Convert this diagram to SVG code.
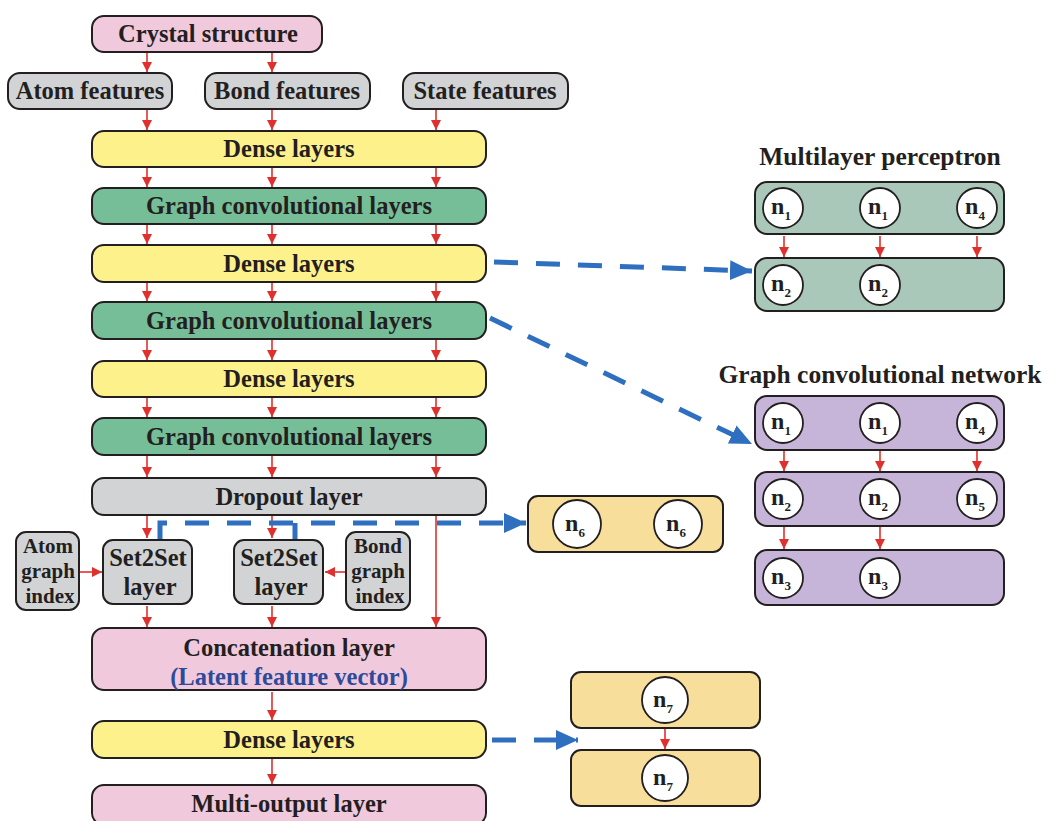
<svg xmlns="http://www.w3.org/2000/svg" width="1048" height="821" viewBox="0 0 1048 821">
<defs>
<marker id="ra" markerUnits="userSpaceOnUse" markerWidth="10" markerHeight="10" viewBox="0 0 10 10" refX="10" refY="5" orient="auto"><path d="M0,0 L10,5 L0,10 Z" fill="#e0302e"/></marker>
<marker id="ba" markerUnits="userSpaceOnUse" markerWidth="22" markerHeight="20" viewBox="0 0 22 20" refX="22" refY="10" orient="auto"><path d="M0,0 L22,10 L0,20 Z" fill="#2f6fbf"/></marker>
<style>
.b{stroke:#231f20;stroke-width:2}
.pk{fill:#f1c9dc}.gy{fill:#d2d3d5}.yl{fill:#fdf18c}.gr{fill:#75be98}.mg{fill:#aac8b9}.pu{fill:#c6b4d9}.tn{fill:#f8de9b}
.t{font-family:"Liberation Serif",serif;font-weight:bold;fill:#231f20;text-anchor:middle}
.m{font-size:24.5px}.s{font-size:21px}.h{font-size:25.5px}
.r{stroke:#e0302e;stroke-width:1.6;fill:none;marker-end:url(#ra)}
.bl{stroke:#2f6fbf;stroke-width:5;fill:none;stroke-dasharray:24 18}
.c{fill:#fff;stroke:#231f20;stroke-width:1.8}
.n{font-family:"Liberation Serif",serif;font-weight:bold;fill:#231f20;font-size:24px;text-anchor:middle}
.sub{font-size:13px}
</style>
</defs>
<g id="connectors">
<path class="r" d="M147,53 V72"/><path class="r" d="M272,53 V72"/>
<path class="r" d="M147,110 V130"/><path class="r" d="M272,110 V130"/><path class="r" d="M436,110 V130"/>
<path class="r" d="M147,168 V187"/><path class="r" d="M272,168 V187"/><path class="r" d="M436,168 V187"/>
<path class="r" d="M147,225 V244"/><path class="r" d="M272,225 V244"/><path class="r" d="M436,225 V244"/>
<path class="r" d="M147,283 V301"/><path class="r" d="M272,283 V301"/><path class="r" d="M436,283 V301"/>
<path class="r" d="M147,340 V360"/><path class="r" d="M272,340 V360"/><path class="r" d="M436,340 V360"/>
<path class="r" d="M147,398 V417"/><path class="r" d="M272,398 V417"/><path class="r" d="M436,398 V417"/>
<path class="r" d="M147,456 V477"/><path class="r" d="M272,456 V477"/><path class="r" d="M436,456 V477"/>
<path class="r" d="M147,516 V538"/><path class="r" d="M272,516 V538"/><path class="r" d="M436,516 V627"/>
<path class="r" d="M80,572 H102"/><path class="r" d="M346,572 H325"/>
<path class="r" d="M147,606 V627"/><path class="r" d="M272,606 V627"/>
<path class="r" d="M272,692 V720"/><path class="r" d="M272,759 V784"/>
<path class="r" d="M784,236 V257"/><path class="r" d="M880,236 V257"/><path class="r" d="M977,236 V257"/>
<path class="r" d="M784,451 V471"/><path class="r" d="M880,451 V471"/><path class="r" d="M977,451 V471"/>
<path class="r" d="M784,527 V549"/><path class="r" d="M880,527 V549"/>
<path class="r" d="M665,729 V749"/>
<path class="bl" d="M494,262 L752,271" marker-end="url(#ba)"/>
<path class="bl" d="M490,318 L752,444" marker-end="url(#ba)"/>
<path class="bl" d="M160,540 V523 H526" marker-end="url(#ba)"/>
<path class="bl" d="M295,540 V523" style="stroke-dasharray:none"/>
<path class="bl" d="M492,740 L578,740" marker-end="url(#ba)"/>
</g>
<g id="crystal"><rect class="b pk" x="92" y="16" width="230" height="36" rx="12"/><text class="t m" x="208" y="42">Crystal structure</text></g>
<g id="atomf"><rect class="b gy" x="8" y="73" width="164" height="36" rx="12"/><text class="t m" x="90" y="99">Atom features</text></g>
<g id="bondf"><rect class="b gy" x="205" y="73" width="165" height="36" rx="12"/><text class="t m" x="287" y="99">Bond features</text></g>
<g id="statef"><rect class="b gy" x="403" y="73" width="165" height="36" rx="12"/><text class="t m" x="485" y="99">State features</text></g>
<g id="dense1"><rect class="b yl" x="92" y="131" width="394" height="36" rx="12"/><text class="t m" x="289" y="157">Dense layers</text></g>
<g id="gc1"><rect class="b gr" x="92" y="188" width="394" height="36" rx="12"/><text class="t m" x="289" y="214">Graph convolutional layers</text></g>
<g id="dense2"><rect class="b yl" x="92" y="245" width="394" height="37" rx="12"/><text class="t m" x="289" y="272">Dense layers</text></g>
<g id="gc2"><rect class="b gr" x="92" y="302" width="394" height="37" rx="12"/><text class="t m" x="289" y="329">Graph convolutional layers</text></g>
<g id="dense3"><rect class="b yl" x="92" y="361" width="394" height="36" rx="12"/><text class="t m" x="289" y="387">Dense layers</text></g>
<g id="gc3"><rect class="b gr" x="92" y="418" width="394" height="37" rx="12"/><text class="t m" x="289" y="445">Graph convolutional layers</text></g>
<g id="dropout"><rect class="b gy" x="92" y="478" width="394" height="37" rx="12"/><text class="t m" x="289" y="505">Dropout layer</text></g>
<g id="atomgi"><rect class="b gy" x="16" y="532" width="63" height="78" rx="10"/><text class="t s" x="48" y="553">Atom</text><text class="t s" x="48" y="578">graph</text><text class="t s" x="50" y="603">index</text></g>
<g id="s2s1"><rect class="b gy" x="103" y="540" width="89" height="64" rx="10"/><text class="t m" x="148" y="566">Set2Set</text><text class="t m" x="150" y="595">layer</text></g>
<g id="s2s2"><rect class="b gy" x="234" y="540" width="89" height="64" rx="10"/><text class="t m" x="279" y="566">Set2Set</text><text class="t m" x="281" y="595">layer</text></g>
<g id="bondgi"><rect class="b gy" x="346" y="532" width="64" height="78" rx="10"/><text class="t s" x="378" y="553">Bond</text><text class="t s" x="378" y="578">graph</text><text class="t s" x="380" y="603">index</text></g>
<g id="concat"><rect class="b pk" x="92" y="628" width="394" height="62" rx="12"/><text class="t m" x="289" y="656">Concatenation layer</text><text class="t m" x="289" y="685" style="fill:#2d4b9b">(Latent feature vector)</text></g>
<g id="dense4"><rect class="b yl" x="92" y="721" width="394" height="37" rx="12"/><text class="t m" x="289" y="748">Dense layers</text></g>
<g id="multiout"><rect class="b pk" x="92" y="785" width="394" height="40" rx="12"/><text class="t m" x="289" y="812">Multi-output layer</text></g>
<g id="mlp">
<text class="t h" x="880" y="165">Multilayer perceptron</text>
<rect class="b mg" x="755" y="182" width="249" height="52" rx="12"/>
<rect class="b mg" x="755" y="258" width="249" height="53" rx="12"/>
<circle class="c" cx="783" cy="208" r="20"/><text class="n" x="781" y="214">n<tspan class="sub" dy="6">1</tspan></text>
<circle class="c" cx="880" cy="208" r="20"/><text class="n" x="878" y="214">n<tspan class="sub" dy="6">1</tspan></text>
<circle class="c" cx="977" cy="208" r="20"/><text class="n" x="975" y="214">n<tspan class="sub" dy="6">4</tspan></text>
<circle class="c" cx="783" cy="285" r="20"/><text class="n" x="781" y="291">n<tspan class="sub" dy="6">2</tspan></text>
<circle class="c" cx="880" cy="285" r="20"/><text class="n" x="878" y="291">n<tspan class="sub" dy="6">2</tspan></text>
</g>
<g id="gcn">
<text class="t h" x="880" y="383">Graph convolutional network</text>
<rect class="b pu" x="755" y="396" width="249" height="54" rx="12"/>
<rect class="b pu" x="755" y="472" width="249" height="54" rx="12"/>
<rect class="b pu" x="755" y="550" width="249" height="55" rx="12"/>
<circle class="c" cx="783" cy="423" r="20"/><text class="n" x="781" y="429">n<tspan class="sub" dy="6">1</tspan></text>
<circle class="c" cx="880" cy="423" r="20"/><text class="n" x="878" y="429">n<tspan class="sub" dy="6">1</tspan></text>
<circle class="c" cx="977" cy="423" r="20"/><text class="n" x="975" y="429">n<tspan class="sub" dy="6">4</tspan></text>
<circle class="c" cx="783" cy="499" r="20"/><text class="n" x="781" y="505">n<tspan class="sub" dy="6">2</tspan></text>
<circle class="c" cx="880" cy="499" r="20"/><text class="n" x="878" y="505">n<tspan class="sub" dy="6">2</tspan></text>
<circle class="c" cx="977" cy="499" r="20"/><text class="n" x="975" y="505">n<tspan class="sub" dy="6">5</tspan></text>
<circle class="c" cx="783" cy="578" r="20"/><text class="n" x="781" y="584">n<tspan class="sub" dy="6">3</tspan></text>
<circle class="c" cx="880" cy="578" r="20"/><text class="n" x="878" y="584">n<tspan class="sub" dy="6">3</tspan></text>
</g>
<g id="n6box">
<rect class="b tn" x="528" y="496" width="195" height="56" rx="10"/>
<circle class="c" cx="577" cy="524" r="24"/><text class="n" x="575" y="531">n<tspan class="sub" dy="6">6</tspan></text>
<circle class="c" cx="678" cy="524" r="24"/><text class="n" x="676" y="531">n<tspan class="sub" dy="6">6</tspan></text>
</g>
<g id="n7box">
<rect class="b tn" x="571" y="672" width="189" height="56" rx="10"/>
<rect class="b tn" x="571" y="750" width="189" height="56" rx="10"/>
<circle class="c" cx="665" cy="700" r="23"/><text class="n" x="663" y="707">n<tspan class="sub" dy="6">7</tspan></text>
<circle class="c" cx="665" cy="778" r="23"/><text class="n" x="663" y="785">n<tspan class="sub" dy="6">7</tspan></text>
</g>
</svg>
